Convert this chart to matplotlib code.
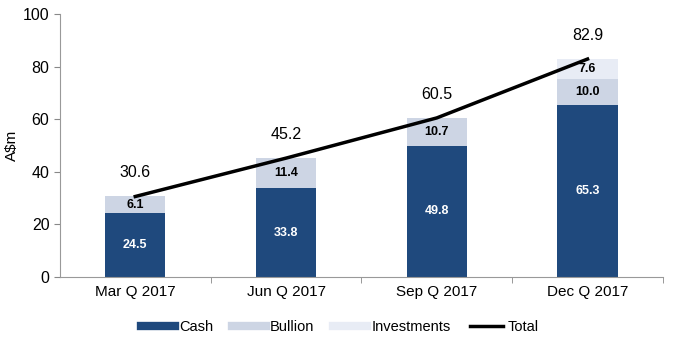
import matplotlib
matplotlib.use("Agg")
import matplotlib.pyplot as plt
from matplotlib.lines import Line2D
import numpy as np

plt.rcParams['font.family'] = ['Liberation Sans', 'DejaVu Sans']

categories = ["Mar Q 2017", "Jun Q 2017", "Sep Q 2017", "Dec Q 2017"]
cash = [24.5, 33.8, 49.8, 65.3]
bullion = [6.1, 11.4, 10.7, 10.0]
investments = [0.0, 0.0, 0.0, 7.6]
total = [30.6, 45.2, 60.5, 82.9]

c_cash = "#1F497D"
c_bull = "#CDD5E4"
c_inv = "#E8ECF5"

fig = plt.figure(figsize=(6.73, 3.44), dpi=100)
ax = fig.add_axes([0.089, 0.195, 0.896, 0.764])

x = np.arange(len(categories))
w = 0.4
ax.bar(x, cash, w, color=c_cash)
ax.bar(x, bullion, w, bottom=cash, color=c_bull)
b2 = np.array(cash) + np.array(bullion)
ax.bar(x, investments, w, bottom=b2, color=c_inv)
ax.plot(x, total, color="black", lw=2.5, zorder=5)

for i in range(len(x)):
    ax.text(x[i], cash[i] / 2, f"{cash[i]:.1f}", ha="center", va="center",
            color="white", fontsize=9, fontweight="bold")
    ax.text(x[i], cash[i] + bullion[i] / 2, f"{bullion[i]:.1f}", ha="center", va="center",
            color="black", fontsize=9, fontweight="bold", zorder=6)
    if investments[i] > 0:
        ax.text(x[i], b2[i] + investments[i] / 2, f"{investments[i]:.1f}", ha="center",
                va="center", color="black", fontsize=9, fontweight="bold", zorder=6)
    ax.text(x[i], total[i] + 9, f"{total[i]:.1f}", ha="center", va="center",
            color="black", fontsize=11.5)

ax.set_xlim(-0.5, 3.5)
ax.set_ylim(0, 100)
ax.set_yticks([0, 20, 40, 60, 80, 100])
ax.set_xticks(x)
ax.set_xticklabels(categories)
ax.set_xticks([0.5, 1.5, 2.5, 3.5], minor=True)
ax.tick_params(axis="x", which="major", length=0, labelsize=11, pad=6)
ax.tick_params(axis="x", which="minor", length=4, color="#888888")
ax.tick_params(axis="y", length=4, color="#888888", labelsize=11.5)
for s in ["top", "right"]:
    ax.spines[s].set_visible(False)
for s in ["left", "bottom"]:
    ax.spines[s].set_color("#999999")
ax.set_ylabel("A$m", fontsize=11, labelpad=3)

handles = [Line2D([], [], color=c_cash, lw=6),
           Line2D([], [], color=c_bull, lw=6),
           Line2D([], [], color=c_inv, lw=6),
           Line2D([], [], color="black", lw=2.5)]
fig.legend(handles, ["Cash", "Bullion", "Investments", "Total"], loc="center",
           bbox_to_anchor=(0.505, 0.05), ncol=4, frameon=False, fontsize=10.5,
           handlelength=2.3, handletextpad=0.3, columnspacing=1.3)

fig.savefig("out.png", dpi=100)
